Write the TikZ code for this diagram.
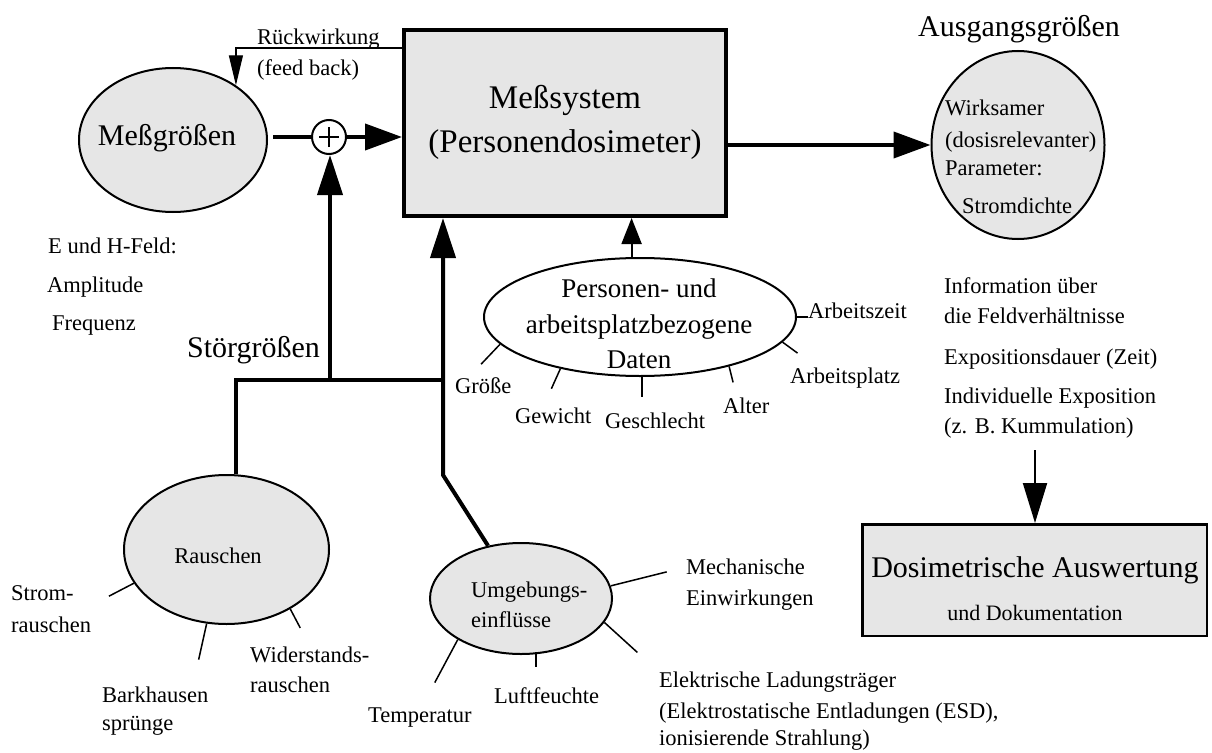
\documentclass[tikz,border=0pt]{standalone}
\usepackage{fontspec}
\setmainfont{Liberation Serif}
\usetikzlibrary{shapes.geometric,arrows.meta}
\definecolor{boxgray}{HTML}{E6E6E6}
\begin{document}
\begin{tikzpicture}[x=1pt,y=-1pt,
  txt/.style={inner sep=0pt, font=\fontsize{22.5pt}{27pt}\selectfont},
  mid/.style={inner sep=0pt, font=\fontsize{27pt}{32pt}\selectfont},
  big/.style={inner sep=0pt, font=\fontsize{30pt}{36pt}\selectfont},
  huge/.style={inner sep=0pt, font=\fontsize{33pt}{40pt}\selectfont},
  heavy/.style={line width=4pt},
  bigtip/.style={-{Triangle[length=37pt,width=26pt]}},
  uptip/.style={-{Triangle[length=40pt,width=25pt]}},
  spoke/.style={line width=1.5pt},
  oval/.style={ellipse, draw, line width=2pt, inner sep=0pt},
]
\useasboundingbox (0,0) rectangle (1212,752);

% ---------- shapes ----------
\node[draw, fill=boxgray, line width=4pt, inner sep=0pt,
      minimum width=322pt, minimum height=186pt] (main) at (565,123) {};
\node[oval, fill=boxgray, minimum width=188pt, minimum height=144pt] (mess) at (173,140) {};
\node[circle, draw, fill=white, line width=2pt, inner sep=0pt, minimum size=34pt] (plus) at (329,137) {};
\node[oval, fill=boxgray, minimum width=173pt, minimum height=188pt] (out) at (1018,145) {};
\node[oval, fill=white, minimum width=312pt, minimum height=118pt] (pers) at (640,317) {};
\node[oval, fill=boxgray, minimum width=205pt, minimum height=149pt] (rausch) at (226.5,549.5) {};
\node[oval, fill=boxgray, minimum width=182pt, minimum height=111pt] (umg) at (521,598.5) {};
\node[draw, fill=boxgray, line width=2.5pt, inner sep=0pt,
      minimum width=344.5pt, minimum height=111.5pt] (dos) at (1034.5,580) {};

% plus sign
\draw[line width=1.5pt] ([xshift=-10pt]plus.center) -- ([xshift=10pt]plus.center);
\draw[line width=1.5pt] ([yshift=-10pt]plus.center) -- ([yshift=10pt]plus.center);

% ---------- texts ----------
\node[huge, anchor=base] (t-main1) at (565,108) {Meßsystem};
\node[huge, anchor=base] (t-main2) at (565,152) {(Personendosimeter)};
\node[big, anchor=base] (t-mess) at (167,145) {Meßgrößen};
\node[txt, anchor=base west] (t-rw1) at (257,45) {Rückwirkung};
\node[txt, anchor=base west] (t-rw2) at (257,75) {(feed back)};
\node[big, anchor=base] (t-aus) at (1019,37) {Ausgangsgrößen};
\node[txt, anchor=base west] (t-out1) at (945,115) {Wirksamer};
\node[txt, anchor=base west] (t-out2) at (945,147) {(dosisrelevanter)};
\node[txt, anchor=base west] (t-out3) at (945,175) {Parameter:};
\node[txt, anchor=base west] (t-out4) at (962,213) {Stromdichte};

\node[txt, anchor=base west] (t-eh) at (48,253) {E und H-Feld:};
\node[txt, anchor=base west] (t-amp) at (47,292) {Amplitude};
\node[txt, anchor=base west] (t-freq) at (52,330) {Frequenz};
\node[big, anchor=base west] (t-stoer) at (187,357) {Störgrößen};

\node[mid, anchor=base] (t-pers1) at (639,297) {Personen- und};
\node[mid, anchor=base] (t-pers2) at (639,333) {arbeitsplatzbezogene};
\node[mid, anchor=base] (t-pers3) at (639,368) {Daten};
\node[txt, anchor=base west] (t-azeit) at (808,318) {Arbeitszeit};
\node[txt, anchor=base west] (t-aplatz) at (790,383) {Arbeitsplatz};
\node[txt, anchor=base west] (t-alter) at (723,413) {Alter};
\node[txt, anchor=base west] (t-geschl) at (605,428) {Geschlecht};
\node[txt, anchor=base west] (t-gew) at (515,423) {Gewicht};
\node[txt, anchor=base west] (t-groesse) at (455,393) {Größe};

\node[txt, anchor=base] (t-rausch) at (218,563) {Rauschen};
\node[txt, anchor=base west] (t-strom1) at (11,600) {Strom-};
\node[txt, anchor=base west] (t-strom2) at (11,632) {rauschen};
\node[txt, anchor=base west] (t-bark1) at (102,702) {Barkhausen};
\node[txt, anchor=base west] (t-bark2) at (102,730) {sprünge};
\node[txt, anchor=base west] (t-wid1) at (250,662) {Widerstands-};
\node[txt, anchor=base west] (t-wid2) at (250,692) {rauschen};

\node[txt, anchor=base west] (t-umg1) at (471,597) {Umgebungs-};
\node[txt, anchor=base west] (t-umg2) at (471,627) {einflüsse};
\node[txt, anchor=base west] (t-mech1) at (686,574) {Mechanische};
\node[txt, anchor=base west] (t-mech2) at (686,605) {Einwirkungen};
\node[txt, anchor=base west] (t-el1) at (659,687) {Elektrische Ladungsträger};
\node[txt, anchor=base west] (t-el2) at (659,718) {(Elektrostatische Entladungen (ESD),};
\node[txt, anchor=base west] (t-el3) at (659,745) {ionisierende Strahlung)};
\node[txt, anchor=base west] (t-luft) at (494,703) {Luftfeuchte};
\node[txt, anchor=base west] (t-temp) at (368,722) {Temperatur};

\node[txt, anchor=base west] (t-info1) at (944,293) {Information über};
\node[txt, anchor=base west] (t-info2) at (944,323) {die Feldverhältnisse};
\node[txt, anchor=base west] (t-expo) at (944,364) {Expositionsdauer (Zeit)};
\node[txt, anchor=base west] (t-indiv1) at (944,403) {Individuelle Exposition};
\node[txt, anchor=base west] (t-indiv2) at (944,433) {(z. B. Kummulation)};

\node[big, anchor=base] (t-dos1) at (1035,577) {Dosimetrische Auswertung};
\node[inner sep=0pt, font=\fontsize{22pt}{26pt}\selectfont, anchor=base] (t-dos2) at (1035,620) {und Dokumentation};

% ---------- connectors ----------
\coordinate (fbrow) at (0,48);
\draw[line width=1.2pt, -{Triangle[length=30pt,width=14pt]}] (main.west |- fbrow) -| (mess.41);

\draw[heavy, shorten <=5pt] (mess.east |- plus.west) -- (plus.west);
\draw[heavy, bigtip] (plus.east) -- (plus.east -| main.west);
\draw[heavy, bigtip] (main.east |- out.west) -- (out.west);

\coordinate (j0) at (236,380);
\coordinate (j1) at (330,380);
\coordinate (j2) at (443,380);
\coordinate (j3) at (443,475);
\draw[heavy, uptip] (j1) -- (j1 |- plus.south);
\draw[heavy, line join=miter] (j0 |- rausch.north) -- (j0) -- (j2);
\draw[heavy, uptip, line join=miter] (umg.122) -- (j3) -- (j3 |- main.south);

\draw[line width=2pt, -{Triangle[length=26pt,width=20pt]}] (pers.98) -- (pers.98 |- main.south);

\coordinate (dtop) at (1035,450);
\draw[line width=2pt, -{Triangle[length=40pt,width=24pt]}] (dtop) -- (dtop |- dos.north);

% spokes of the data ellipse
\draw[spoke] (pers.0) -- ++(11,0);
\draw[spoke] (pers.-10) -- ++(15,11);
\draw[spoke] (pers.-29) -- ++(4,16);
\draw[spoke] (pers.-88) -- ++(0,20);
\draw[spoke] (pers.-147) -- ++(-9,20);
\draw[spoke] (pers.-169) -- ++(-19,20);

% spokes of the noise ellipse
\draw[spoke] (rausch.-160) -- ++(-25,13);
\draw[spoke] (rausch.-105) -- ++(-8,36);
\draw[spoke] (rausch.-43) -- ++(10,19);

% spokes of the environment ellipse
\draw[spoke] (umg.8) -- ++(56,-14);
\draw[spoke] (umg.-16) -- ++(33,30);
\draw[spoke] ([yshift=2pt]umg.-75) -- ++(0,15);
\draw[spoke] (umg.-147) -- ++(-23,43);
\end{tikzpicture}
\end{document}
